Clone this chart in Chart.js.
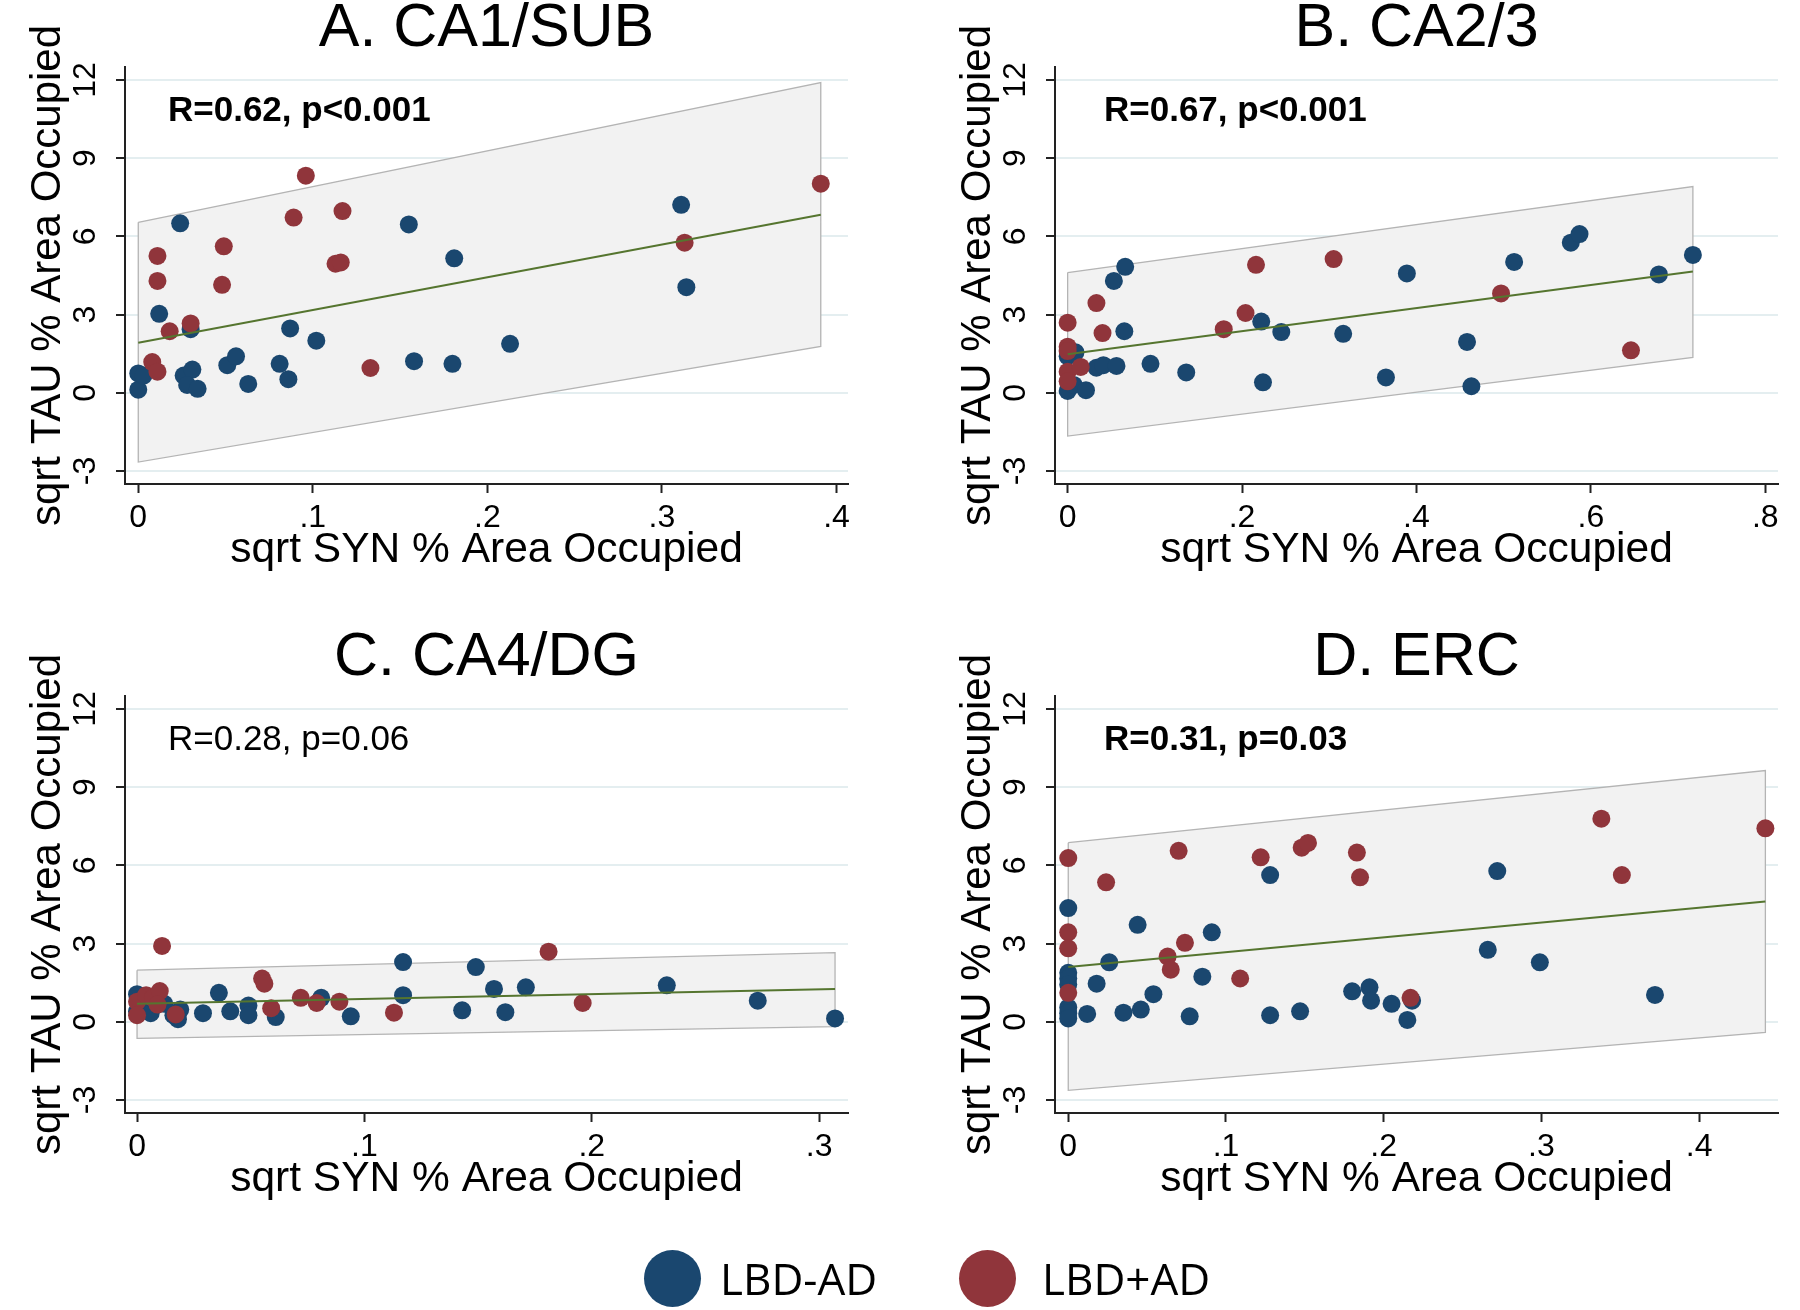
<!DOCTYPE html>
<html><head><meta charset="utf-8">
<script src="https://cdn.jsdelivr.net/npm/chart.js@4/dist/chart.umd.min.js"></script>
<style>
html,body{margin:0;padding:0;background:#fff;width:1800px;height:1310px;overflow:hidden}
.panel{position:absolute;width:870px;height:620px}
.dot{position:absolute;width:57px;height:57px;border-radius:50%}
.lab{position:absolute;height:66px;line-height:66px;font-family:"Open Sans",sans-serif;font-size:44px;color:#000;white-space:nowrap}
</style></head>
<body>
<div class="panel" style="left:0;top:0"><canvas id="cA"></canvas></div>
<div class="panel" style="left:930px;top:0"><canvas id="cB"></canvas></div>
<div class="panel" style="left:0;top:629px"><canvas id="cC"></canvas></div>
<div class="panel" style="left:930px;top:629px"><canvas id="cD"></canvas></div>
<div class="dot" style="left:644px;top:1250px;background:#1a476f"></div>
<div class="lab" style="left:720px;top:1245px">LBD-AD</div>
<div class="dot" style="left:959px;top:1250px;background:#90353b"></div>
<div class="lab" style="left:1042px;top:1245px">LBD+AD</div>
<script>
// ---------- data ----------
const seriesNames = ["LBD-AD", "LBD+AD"];
const panelTitles = ["A. CA1/SUB", "B. CA2/3", "C. CA4/DG", "D. ERC"];
const statTexts = ["R=0.62, p<0.001", "R=0.67, p<0.001", "R=0.28, p=0.06", "R=0.31, p=0.03"];
const yTicks = [-3, 0, 3, 6, 9, 12];
const xTicksA = [0, 0.1, 0.2, 0.3, 0.4];
const xTicksB = [0, 0.2, 0.4, 0.6, 0.8];
const xTicksC = [0, 0.1, 0.2, 0.3];
const xTicksD = [0, 0.1, 0.2, 0.3, 0.4];

// Panel A
const aBlueX = [0.024,0.012,0,0,0.003,0.030,0.026,0.031,0.028,0.034,0.051,0.056,0.063,0.081,0.086,0.087,0.102,0.155,0.158,0.180,0.181,0.213,0.311,0.314];
const aBlueY = [6.50,3.03,0.74,0.12,0.66,2.44,0.66,0.89,0.30,0.15,1.06,1.40,0.34,1.11,0.52,2.47,2.00,6.46,1.21,1.11,5.16,1.88,7.21,4.05];
const aRedX = [0.011,0.011,0.008,0.011,0.018,0.030,0.049,0.048,0.089,0.096,0.117,0.113,0.116,0.133,0.313,0.391];
const aRedY = [5.25,4.29,1.18,0.81,2.36,2.66,5.62,4.14,6.72,8.33,6.97,4.95,5.00,0.95,5.76,8.02];
const aBandX = [0, 0.391];
const aUpper = [6.54, 11.90];
const aLower = [-2.66, 1.78];
const aFit = [1.92, 6.83];

// Panel B
const bBlueX = [0,0,0.009,0.007,0.021,0.033,0.041,0.056,0.053,0.066,0.065,0.095,0.136,0.222,0.224,0.245,0.316,0.365,0.389,0.458,0.463,0.512,0.577,0.587,0.678,0.717];
const bBlueY = [0.07,1.40,1.55,0.30,0.10,0.96,1.06,1.03,4.29,4.83,2.36,1.11,0.78,2.73,0.40,2.33,2.26,0.59,4.58,1.95,0.25,5.02,5.76,6.09,4.54,5.29];
const bRedX = [0,0,0,0,0,0.015,0.033,0.040,0.179,0.204,0.216,0.305,0.497,0.646];
const bRedY = [2.69,1.77,1.60,0.81,0.44,0.99,3.44,2.29,2.44,3.06,4.91,5.13,3.81,1.63];
const bBandX = [0, 0.717];
const bUpper = [4.61, 7.91];
const bLower = [-1.66, 1.36];
const bFit = [1.48, 4.65];

// Panel C
const cBlueX = [0,0,0.002,0.006,0.012,0.016,0.019,0.018,0.029,0.036,0.041,0.049,0.049,0.061,0.081,0.094,0.117,0.117,0.143,0.149,0.157,0.162,0.171,0.233,0.273,0.307];
const cBlueY = [1.06,0.40,0.84,0.33,0.69,0.25,0.47,0.10,0.33,1.11,0.40,0.62,0.25,0.18,0.92,0.21,2.29,1.02,0.44,2.10,1.26,0.37,1.32,1.40,0.81,0.13];
const cRedX = [0.011,0,0,0.004,0.007,0.010,0.009,0.017,0.055,0.056,0.059,0.072,0.079,0.089,0.113,0.181,0.196];
const cRedY = [2.91,0.77,0.25,1.02,0.92,1.18,0.66,0.28,1.66,1.46,0.52,0.92,0.72,0.77,0.35,2.69,0.72];
const cBandX = [0, 0.307];
const cUpper = [1.98, 2.65];
const cLower = [-0.64, -0.19];
const cFit = [0.69, 1.26];

// Panel D
const dBlueX = [0,0,0,0,0,0,0,0.012,0.018,0.026,0.035,0.044,0.046,0.054,0.077,0.085,0.091,0.128,0.128,0.147,0.180,0.191,0.192,0.205,0.215,0.218,0.266,0.272,0.299,0.372];
const dBlueY = [4.36,1.88,1.66,1.43,0.55,0.33,0.13,0.30,1.46,2.28,0.35,3.72,0.47,1.06,0.21,1.73,3.43,5.63,0.25,0.40,1.17,1.32,0.81,0.69,0.07,0.81,2.76,5.78,2.28,1.03];
const dRedX = [0,0,0,0,0.024,0.063,0.065,0.070,0.074,0.109,0.122,0.148,0.152,0.183,0.185,0.217,0.338,0.351,0.442];
const dRedY = [6.28,3.43,2.82,1.11,5.35,2.50,2.00,6.56,3.03,1.66,6.31,6.68,6.86,6.49,5.54,0.92,7.79,5.63,7.42];
const dBandX = [0, 0.442];
const dUpper = [6.87, 9.64];
const dLower = [-2.63, -0.41];
const dFit = [2.10, 4.61];

// ---------- drawing ----------
const FONT = '"Liberation Sans", Arial, sans-serif';
const BLUE = '#1a476f', RED = '#90353b', GREEN = '#55752f';
const zip = (xs, ys) => xs.map((x, i) => ({x: x, y: ys[i]}));
const fmt = v => (v === 0 ? '0' : String(Math.round(v * 100) / 100).replace(/^0\./, '.').replace(/^-0\./, '-.'));
// closed outline of the confidence band: upper edge, right side, lower edge back, left side
const bandShape = (xs, up, lo) => [
  {x: xs[0], y: up[0]}, {x: xs[1], y: up[1]}, {x: xs[1], y: lo[1]}, {x: xs[0], y: lo[0]}, {x: xs[0], y: up[0]}
];

const statPlugin = {
  id: 'stat',
  afterDatasetsDraw(chart, args, opts) {
    const {ctx, chartArea} = chart;
    ctx.save();
    ctx.font = (opts.bold ? 'bold ' : '') + '35px ' + FONT;
    ctx.fillStyle = '#000';
    ctx.textBaseline = 'middle';
    ctx.textAlign = 'left';
    ctx.fillText(opts.text, chartArea.left + opts.dx, chartArea.top + opts.dy);
    ctx.restore();
  }
};

function makePanel(id, p) {
  new Chart(document.getElementById(id), {
    type: 'scatter',
    data: {
      datasets: [
        {type: 'line', data: bandShape(p.bandX, p.upper, p.lower), borderColor: '#b4b4b4', borderWidth: 1.3,
         pointRadius: 0, fill: 'shape', backgroundColor: '#f2f2f2', order: 4, tension: 0},
        {type: 'line', data: zip(p.bandX, p.fit), borderColor: GREEN, borderWidth: 2, pointRadius: 0, fill: false, order: -1, tension: 0},
        {label: seriesNames[0], data: zip(p.blueX, p.blueY), backgroundColor: BLUE, borderColor: BLUE, borderWidth: 0, pointRadius: 9, order: 1},
        {label: seriesNames[1], data: zip(p.redX, p.redY), backgroundColor: RED, borderColor: RED, borderWidth: 0, pointRadius: 9, order: 0}
      ]
    },
    options: {
      responsive: true,
      maintainAspectRatio: false,
      animation: false,
      devicePixelRatio: 1,
      layout: {padding: {left: 0, right: 22, top: 0, bottom: 0}},
      plugins: {
        legend: {display: false},
        tooltip: {enabled: false},
        title: {display: true, text: p.title, fullSize: false, color: '#000',
                font: {family: FONT, size: 61, weight: 'normal', lineHeight: 0.95}, padding: {top: 0, bottom: 9}},
        stat: {text: p.stat, bold: p.bold, dx: p.dx, dy: 44}
      },
      scales: {
        x: {
          type: 'linear', min: p.xmin, max: p.xmax,
          afterBuildTicks: s => { s.ticks = p.xTicks.map(v => ({value: v})); },
          afterFit: s => { s.height = 136; },
          grid: {drawOnChartArea: false, drawTicks: true, tickLength: 9, tickWidth: 2, tickColor: '#222'},
          border: {display: true, color: '#222', width: 2},
          ticks: {autoSkip: false, maxRotation: 0, padding: 6, color: '#000',
                  font: {family: FONT, size: 32}, callback: v => fmt(v)},
          title: {display: true, text: 'sqrt SYN % Area Occupied', color: '#000',
                  font: {family: FONT, size: 42.5, lineHeight: 1.2}, padding: {top: 0, bottom: 44}}
        },
        y: {
          type: 'linear', min: -3.5, max: 12.5,
          afterBuildTicks: s => { s.ticks = yTicks.map(v => ({value: v})); },
          afterFit: s => { s.width = 125; },
          grid: {drawOnChartArea: true, color: '#e4eef0', lineWidth: 2, drawTicks: true, tickLength: 9, tickWidth: 2, tickColor: '#222'},
          border: {display: true, color: '#222', width: 2},
          ticks: {minRotation: 90, maxRotation: 90, crossAlign: 'center', padding: 12, color: '#000',
                  font: {family: FONT, size: 32}, callback: v => fmt(v)},
          title: {display: true, text: 'sqrt TAU % Area Occupied', color: '#000',
                  font: {family: FONT, size: 42, lineHeight: 1.2}, padding: {top: 23, bottom: 0}}
        }
      }
    },
    plugins: [statPlugin]
  });
}

makePanel('cA', {title: panelTitles[0], stat: statTexts[0], bold: true, dx: 43, xmin: -0.0076, xmax: 0.4066, xTicks: xTicksA,
  blueX: aBlueX, blueY: aBlueY, redX: aRedX, redY: aRedY, bandX: aBandX, upper: aUpper, lower: aLower, fit: aFit});
makePanel('cB', {title: panelTitles[1], stat: statTexts[1], bold: true, dx: 49, xmin: -0.0145, xmax: 0.8146, xTicks: xTicksB,
  blueX: bBlueX, blueY: bBlueY, redX: bRedX, redY: bRedY, bandX: bBandX, upper: bUpper, lower: bLower, fit: bFit});
makePanel('cC', {title: panelTitles[2], stat: statTexts[2], bold: false, dx: 43, xmin: -0.0053, xmax: 0.3127, xTicks: xTicksC,
  blueX: cBlueX, blueY: cBlueY, redX: cRedX, redY: cRedY, bandX: cBandX, upper: cUpper, lower: cLower, fit: cFit});
makePanel('cD', {title: panelTitles[3], stat: statTexts[3], bold: true, dx: 49, xmin: -0.0084, xmax: 0.4500, xTicks: xTicksD,
  blueX: dBlueX, blueY: dBlueY, redX: dRedX, redY: dRedY, bandX: dBandX, upper: dUpper, lower: dLower, fit: dFit});
</script>
</body></html>
